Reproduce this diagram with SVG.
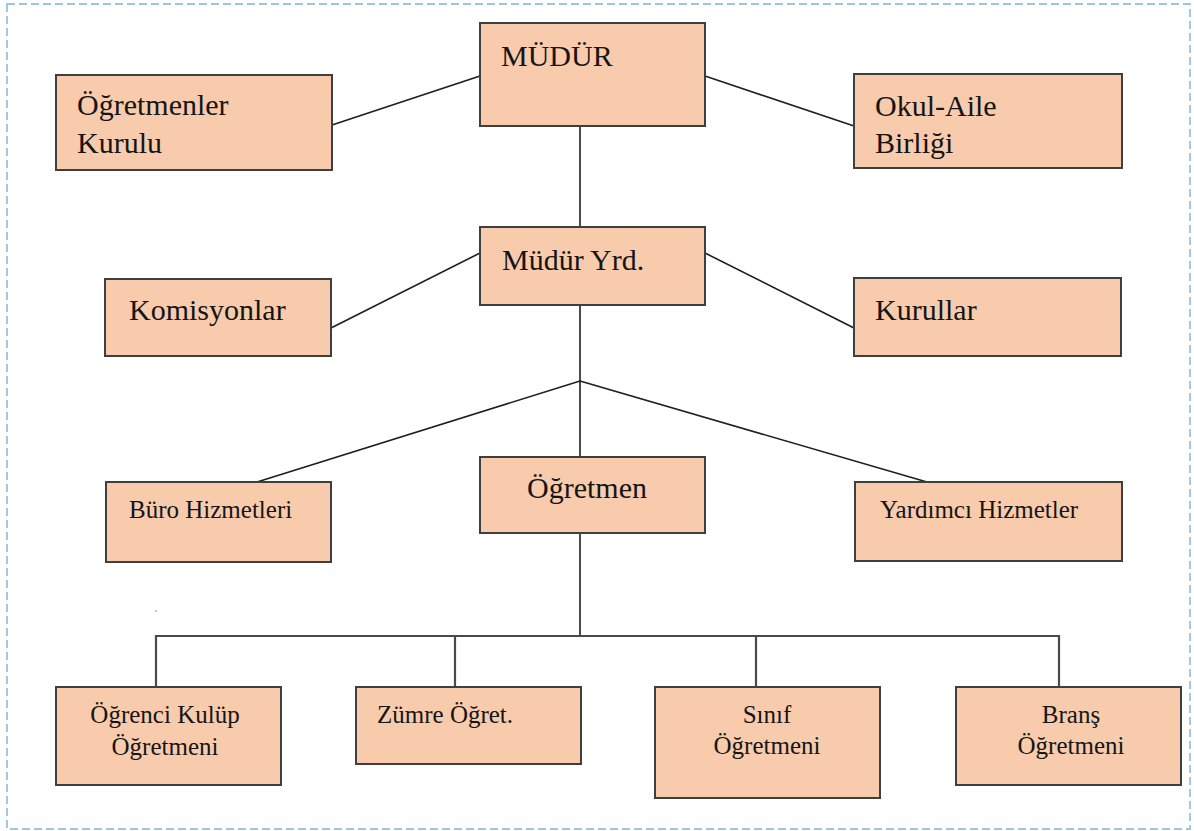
<svg xmlns="http://www.w3.org/2000/svg" width="1194" height="831" viewBox="0 0 1194 831">
<style>
.box{fill:#f8cbad;stroke:#3f3f3f;stroke-width:2}
text{font-family:'Liberation Serif','Times New Roman',Tinos,'DejaVu Serif',serif;fill:#151515}
.l{font-size:30px}
.s{font-size:25px}
.c{text-anchor:middle}
.ln{stroke:#1e1e1e;stroke-width:1.6;fill:none}
.tr{stroke:#4a4a4a;stroke-width:2.2;fill:none}
</style>
<rect x="0" y="0" width="1194" height="831" fill="#ffffff"/>
<rect x="7" y="4" width="1183" height="825" fill="none" stroke="#9dc3e6" stroke-width="1.8" stroke-dasharray="8 4"/>
<g id="connectors">
<line class="ln" x1="332" y1="125" x2="480" y2="76"/>
<line class="ln" x1="705" y1="76" x2="854" y2="126"/>
<line class="ln" x1="580" y1="126" x2="580" y2="227"/>
<line class="ln" x1="331" y1="328" x2="480" y2="253"/>
<line class="ln" x1="705" y1="253" x2="854" y2="328"/>
<line class="ln" x1="580" y1="305" x2="580" y2="457"/>
<line class="ln" x1="580" y1="381" x2="257" y2="482"/>
<line class="ln" x1="580" y1="381" x2="927" y2="482"/>
<line class="ln" x1="580" y1="533" x2="580" y2="636"/>
<polyline class="tr" points="156,687 156,636 1059,636 1059,687"/>
<line class="tr" x1="455" y1="636" x2="455" y2="687"/>
<line class="tr" x1="756" y1="636" x2="756" y2="687"/>
</g>
<circle cx="156" cy="611" r="0.8" fill="#777"/>
<g id="mudur">
<rect class="box" x="480" y="23" width="225" height="103"/>
<text class="l" x="501" y="66" font-family="Liberation Serif, serif">MÜDÜR</text>
</g>
<g id="ogretmenler-kurulu">
<rect class="box" x="56" y="75" width="276" height="95"/>
<text class="l" x="77" y="115" font-family="Liberation Serif, serif">Öğretmenler</text>
<text class="l" x="77" y="153" font-family="Liberation Serif, serif">Kurulu</text>
</g>
<g id="okul-aile-birligi">
<rect class="box" x="854" y="74" width="268" height="94"/>
<text class="l" x="875" y="116" font-family="Liberation Serif, serif">Okul-Aile</text>
<text class="l" x="875" y="153" font-family="Liberation Serif, serif">Birliği</text>
</g>
<g id="mudur-yrd">
<rect class="box" x="480" y="227" width="225" height="78"/>
<text class="l" x="502" y="270" font-family="Liberation Serif, serif">Müdür Yrd.</text>
</g>
<g id="komisyonlar">
<rect class="box" x="105" y="279" width="226" height="77"/>
<text class="l" x="129" y="320" font-family="Liberation Serif, serif">Komisyonlar</text>
</g>
<g id="kurullar">
<rect class="box" x="854" y="278" width="267" height="78"/>
<text class="l" x="875" y="320" font-family="Liberation Serif, serif">Kurullar</text>
</g>
<g id="buro-hizmetleri">
<rect class="box" x="106" y="482" width="225" height="80"/>
<text class="s" x="129" y="518" font-family="Liberation Serif, serif">Büro Hizmetleri</text>
</g>
<g id="ogretmen">
<rect class="box" x="480" y="457" width="225" height="76"/>
<text class="l" x="527" y="498" font-family="Liberation Serif, serif">Öğretmen</text>
</g>
<g id="yardimci-hizmetler">
<rect class="box" x="855" y="482" width="267" height="79"/>
<text class="s" x="880" y="518" font-family="Liberation Serif, serif">Yardımcı Hizmetler</text>
</g>
<g id="ogrenci-kulup-ogretmeni">
<rect class="box" x="56" y="687" width="225" height="98"/>
<text class="s c" x="165" y="723" font-family="Liberation Serif, serif">Öğrenci Kulüp</text>
<text class="s c" x="165" y="755" font-family="Liberation Serif, serif">Öğretmeni</text>
</g>
<g id="zumre-ogret">
<rect class="box" x="356" y="687" width="225" height="77"/>
<text class="s" x="377" y="723" font-family="Liberation Serif, serif">Zümre Öğret.</text>
</g>
<g id="sinif-ogretmeni">
<rect class="box" x="655" y="687" width="225" height="111"/>
<text class="s c" x="767" y="723" font-family="Liberation Serif, serif">Sınıf</text>
<text class="s c" x="767" y="754" font-family="Liberation Serif, serif">Öğretmeni</text>
</g>
<g id="brans-ogretmeni">
<rect class="box" x="956" y="687" width="225" height="98"/>
<text class="s c" x="1071" y="723" font-family="Liberation Serif, serif">Branş</text>
<text class="s c" x="1071" y="754" font-family="Liberation Serif, serif">Öğretmeni</text>
</g>
</svg>
